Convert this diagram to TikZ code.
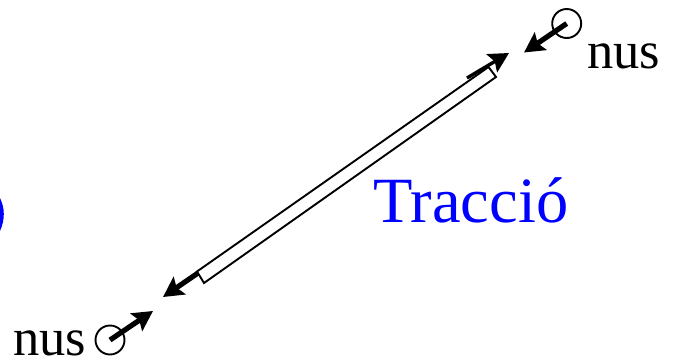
\documentclass[tikz,border=0pt]{standalone}
\usepackage{fontspec}
\setmainfont{Liberation Serif}
\usetikzlibrary{arrows.meta}
\definecolor{tblue}{RGB}{0,0,255}
\tikzset{
  force/.style={line width=5.2pt,-{Triangle[width=21pt,length=20pt,inset=3.5pt,sep=0pt]}},
  nusc/.style={circle,draw=black,line width=1.9pt,minimum size=29pt,inner sep=0pt},
  lab/.style={anchor=base west,inner sep=0pt,font=\fontsize{52.5}{53}\selectfont},
  barline/.style={draw=black,line width=1.9pt,line join=miter}
}
\begin{document}
\begin{tikzpicture}[x=1pt,y=-1pt]
\useasboundingbox (0,0) rectangle (676,362);
% blue fragment at the left edge
\fill[tblue] (0,198) .. controls (2.8,204) and (3.8,209) .. (3.8,214) .. controls (3.8,219) and (2.8,225) .. (0,231) -- cycle;
% bar
\coordinate (b1) at (197,271.5);
\coordinate (b2) at (204,283);
\coordinate (b3) at (496,77);
\coordinate (b4) at (488.5,67);
\draw[barline] (b1) -- (b2) -- (b3) -- (b4) -- cycle;
% nodes
\node[nusc] (topn) at (566.7,23.5) {};
\node[nusc] (botn) at (110,340) {};
\coordinate (tb) at (524,52.5);
\coordinate (bb) at (153,311);
\coordinate (ta) at (509,53);
\coordinate (ts) at (467,78);
\coordinate (ba) at (163,297);
\coordinate (bs) at (198,273);
\draw[force] (topn.center) -- (tb);
\draw[force] (botn.center) -- (bb);
\draw[force,line width=3.4pt] (ts) -- (ta);
\draw[force] (bs) -- (ba);
\node[lab] (nt) at (587,68) {nus};
\node[lab] (nb) at (13,355.5) {nus};
\node[anchor=base west,inner sep=0pt,text=tblue,font=\fontsize{64.5}{65}\selectfont] (tr) at (373.5,222) {Tracció};
\end{tikzpicture}
\end{document}
